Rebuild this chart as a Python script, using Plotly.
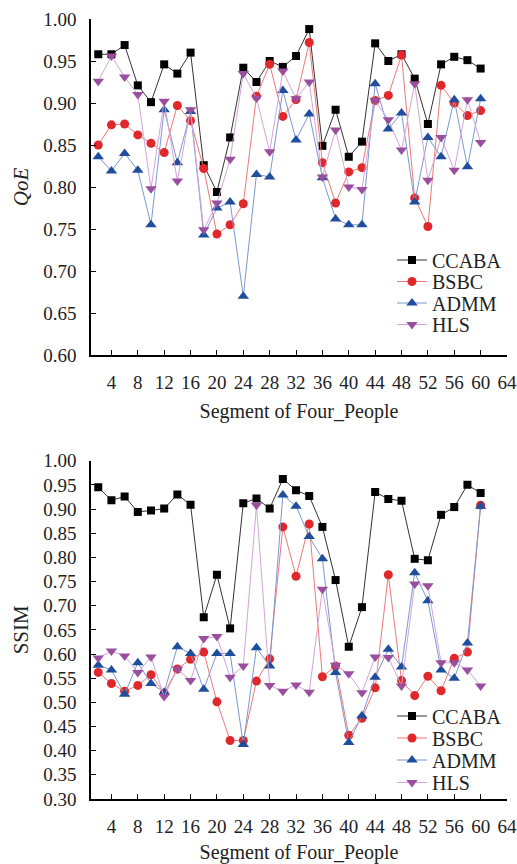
import plotly.graph_objects as go

segments = list(range(2, 61, 2))

qoe_ccaba = [0.958, 0.958, 0.969, 0.921, 0.901, 0.946, 0.935, 0.960, 0.826, 0.794,
             0.859, 0.942, 0.925, 0.950, 0.943, 0.956, 0.988, 0.849, 0.892, 0.836,
             0.854, 0.971, 0.950, 0.958, 0.929, 0.875, 0.946, 0.955, 0.951, 0.941]
qoe_bsbc = [0.850, 0.874, 0.875, 0.862, 0.852, 0.841, 0.897, 0.879, 0.822, 0.744,
            0.755, 0.780, 0.908, 0.946, 0.884, 0.904, 0.972, 0.829, 0.781, 0.818,
            0.823, 0.903, 0.909, 0.957, 0.787, 0.753, 0.921, 0.900, 0.885, 0.891]
qoe_admm = [0.836, 0.819, 0.840, 0.820, 0.755, 0.892, 0.829, 0.890, 0.743, 0.775,
            0.782, 0.670, 0.815, 0.812, 0.915, 0.856, 0.887, 0.811, 0.762, 0.755,
            0.755, 0.923, 0.869, 0.888, 0.782, 0.859, 0.836, 0.904, 0.824, 0.905]
qoe_hls = [0.926, 0.956, 0.931, 0.910, 0.798, 0.902, 0.807, 0.892, 0.749, 0.781,
           0.833, 0.935, 0.906, 0.842, 0.938, 0.905, 0.925, 0.812, 0.868, 0.800,
           0.797, 0.903, 0.880, 0.844, 0.923, 0.808, 0.859, 0.820, 0.904, 0.853]

ssim_ccaba = [0.945, 0.918, 0.926, 0.894, 0.897, 0.901, 0.930, 0.909, 0.676, 0.764,
              0.653, 0.912, 0.922, 0.901, 0.962, 0.939, 0.927, 0.863, 0.753, 0.615,
              0.697, 0.935, 0.921, 0.917, 0.797, 0.794, 0.888, 0.904, 0.950, 0.933]
ssim_bsbc = [0.562, 0.539, 0.523, 0.535, 0.557, 0.519, 0.569, 0.589, 0.604, 0.501,
             0.421, 0.421, 0.544, 0.590, 0.863, 0.761, 0.869, 0.553, 0.575, 0.432,
             0.467, 0.530, 0.764, 0.545, 0.514, 0.554, 0.524, 0.591, 0.604, 0.908]
ssim_admm = [0.577, 0.567, 0.517, 0.582, 0.539, 0.521, 0.615, 0.601, 0.527, 0.601,
             0.601, 0.413, 0.613, 0.575, 0.929, 0.906, 0.843, 0.797, 0.562, 0.417,
             0.472, 0.552, 0.610, 0.573, 0.768, 0.710, 0.567, 0.550, 0.623, 0.906]
ssim_hls = [0.592, 0.606, 0.596, 0.562, 0.594, 0.512, 0.569, 0.545, 0.632, 0.636,
            0.552, 0.575, 0.908, 0.535, 0.523, 0.536, 0.521, 0.734, 0.577, 0.559,
            0.520, 0.594, 0.593, 0.534, 0.745, 0.741, 0.582, 0.582, 0.567, 0.534]

names = ["CCABA", "BSBC", "ADMM", "HLS"]
x_ticks = list(range(4, 65, 4))

styles = {
    "CCABA": dict(line="#333333", marker="#000000", symbol="square", size=8),
    "BSBC": dict(line="#f07878", marker="#e0282c", symbol="circle", size=9),
    "ADMM": dict(line="#7a98d0", marker="#1f4e9c", symbol="triangle-up", size=10),
    "HLS": dict(line="#d4a4d8", marker="#9a4f9e", symbol="triangle-down", size=10),
}

FONT = "Liberation Serif"
TXT = "#222"
fig = go.Figure()

top = dict(zip(names, [qoe_ccaba, qoe_bsbc, qoe_admm, qoe_hls]))
bot = dict(zip(names, [ssim_ccaba, ssim_bsbc, ssim_admm, ssim_hls]))

# body margin is removed in the page (post_script), so figure px == page px
FIG_W, FIG_H = 517, 864
PLOT_L, PLOT_R = 91, 507
PLOT_TOP, PLOT_BOT = 19, 799
H = PLOT_BOT - PLOT_TOP
W = PLOT_R - PLOT_L

# one single-entry legend per trace, so the entries sit as tightly as in the original
top_legend_px = [260, 281.5, 303, 324.5]
bot_legend_px = [716, 738, 760, 782.5]

legends = {}
k = 1
for data, xr, yr, ypx in ((top, "x", "y", top_legend_px),
                          (bot, "x2", "y2", bot_legend_px)):
    for i, n in enumerate(names):
        s = styles[n]
        lname = "legend" if k == 1 else f"legend{k}"
        legends[lname] = dict(
            font=dict(family=FONT, size=20, color=TXT), bgcolor="rgba(0,0,0,0)",
            xanchor="left", yanchor="middle", x=(392 - PLOT_L) / W,
            y=(PLOT_BOT - ypx[i]) / H, itemwidth=30)
        fig.add_trace(go.Scatter(
            x=segments, y=data[n], name=n, mode="lines+markers",
            line=dict(color=s["line"], width=1),
            marker=dict(color=s["marker"], symbol=s["symbol"], size=s["size"],
                        line=dict(width=0)),
            xaxis=xr, yaxis=yr, legend=lname, showlegend=True))
        k += 1

xa = dict(range=[0.9, 64], tickvals=x_ticks, ticks="inside", ticklen=5,
          tickwidth=1.2, tickcolor="black", showline=True, linecolor="black",
          linewidth=1.5, showgrid=False, zeroline=False, automargin=False,
          tickfont=dict(family=FONT, size=19, color=TXT),
          ticklabelstandoff=9,
          title=dict(text="Segment of Four_People",
                     font=dict(family=FONT, size=20, color=TXT), standoff=12))
ya = dict(ticks="inside", ticklen=5, tickwidth=1.2, tickcolor="black",
          showline=True, linecolor="black", linewidth=1.5, showgrid=False,
          zeroline=False, dtick=0.05, tickformat=".2f", automargin=False,
          tickfont=dict(family=FONT, size=19, color=TXT),
          ticklabelstandoff=9)

fig.update_layout(
    width=FIG_W, height=FIG_H, showlegend=True,
    margin=dict(l=PLOT_L, r=FIG_W - PLOT_R, t=PLOT_TOP, b=FIG_H - PLOT_BOT,
                autoexpand=False),
    paper_bgcolor="white", plot_bgcolor="white",
    font=dict(family=FONT, color=TXT),
    xaxis=dict(**xa, domain=[0, 1], anchor="y"),
    yaxis=dict(**ya, domain=[(PLOT_BOT - 355) / H, 1], range=[0.6, 1.0],
               anchor="x",
               title=dict(text="<i>QoE</i>", font=dict(family=FONT, size=21, color=TXT),
                          standoff=9)),
    xaxis2=dict(**xa, domain=[0, 1], anchor="y2"),
    yaxis2=dict(**ya, domain=[0, (PLOT_BOT - 460.7) / H], range=[0.3, 1.0],
                anchor="x2",
                title=dict(text="SSIM", font=dict(family=FONT, size=21, color=TXT),
                           standoff=9)),
    **legends,
)

fig.write_html("out.html", config={"displayModeBar": False},
               post_script="document.body.style.margin='0';document.body.style.overflow='hidden';")
